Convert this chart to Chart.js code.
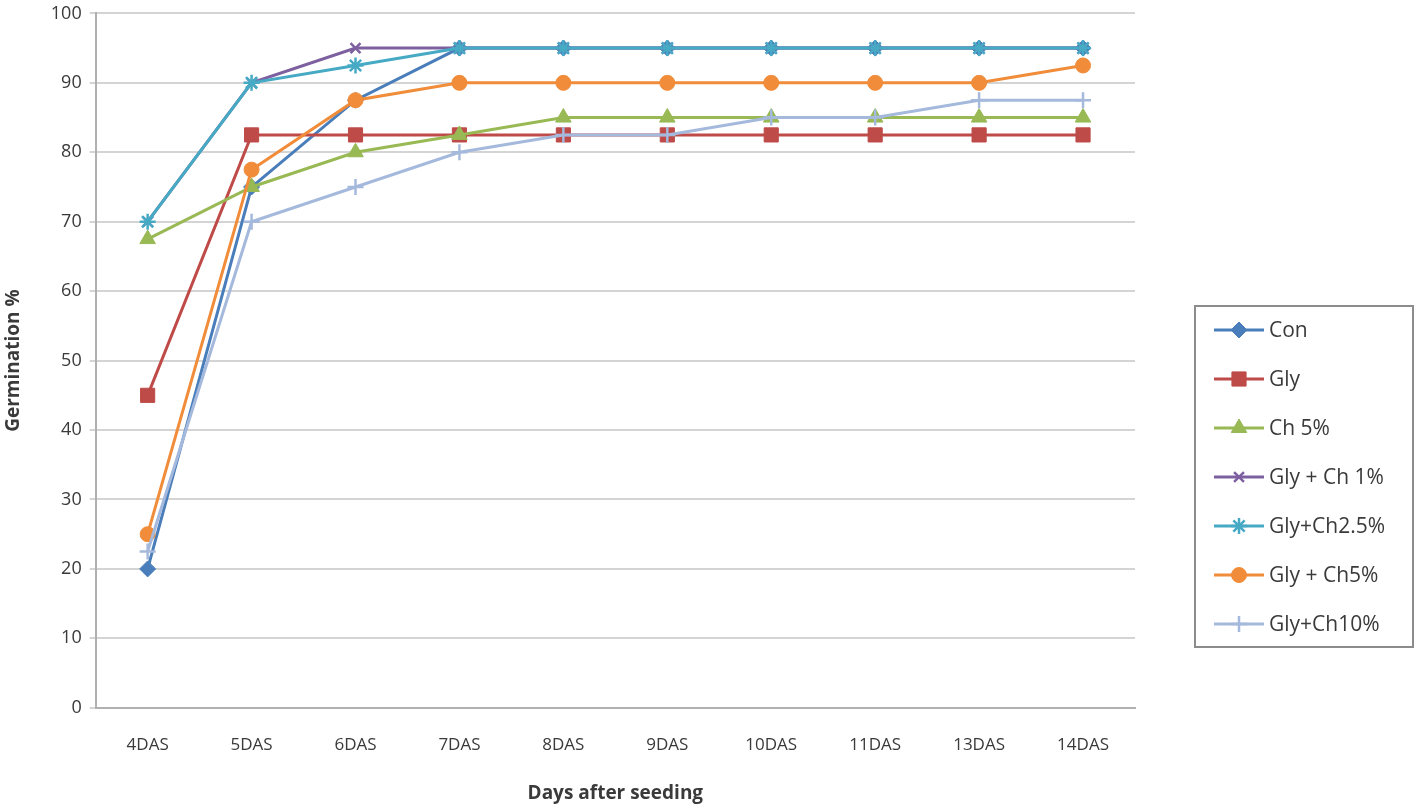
<!DOCTYPE html>
<html>
<head>
<meta charset="utf-8">
<script src="https://cdn.jsdelivr.net/npm/chart.js@4.4.0/dist/chart.umd.min.js"></script>
<style>
    html, body { margin: 0; padding: 0; background: #fff; }
    #wrap { width: 1418px; height: 808px; position: relative; }
</style>
</head>
<body>
<div id="wrap"><canvas id="germChart"></canvas></div>
<script>
const days = ['4DAS', '5DAS', '6DAS', '7DAS', '8DAS', '9DAS', '10DAS', '11DAS', '13DAS', '14DAS'];
const seriesNames = ['Con', 'Gly', 'Ch 5%', 'Gly + Ch 1%', 'Gly+Ch2.5%', 'Gly + Ch5%', 'Gly+Ch10%'];

const con      = [20, 75, 87.5, 95, 95, 95, 95, 95, 95, 95];
const gly      = [45, 82.5, 82.5, 82.5, 82.5, 82.5, 82.5, 82.5, 82.5, 82.5];
const ch5      = [67.5, 75, 80, 82.5, 85, 85, 85, 85, 85, 85];
const glyCh1   = [70, 90, 95, 95, 95, 95, 95, 95, 95, 95];
const glyCh25  = [70, 90, 92.5, 95, 95, 95, 95, 95, 95, 95];
const glyCh5   = [25, 77.5, 87.5, 90, 90, 90, 90, 90, 90, 92.5];
const glyCh10  = [22.5, 70, 75, 80, 82.5, 82.5, 85, 85, 87.5, 87.5];

const yTicks = [0, 10, 20, 30, 40, 50, 60, 70, 80, 90, 100];

const values  = [con, gly, ch5, glyCh1, glyCh25, glyCh5, glyCh10];
const colors  = ['#4a7ebb', '#be4b48', '#98b954', '#7d60a0', '#46aac5', '#f08c3a', '#a5b9dd'];
const markers = ['rectRot', 'rect', 'triangle', 'crossRot', 'star', 'circle', 'cross'];
const radii   = [8, 10, 9, 7, 8, 7.5, 8];

const FONT = '"Open Sans", sans-serif';
const TEXT = '#3a3a3a';

const datasets = seriesNames.map(function (name, i) {
    return {
        label: name,
        data: values[i],
        borderColor: colors[i],
        backgroundColor: colors[i],
        pointBackgroundColor: colors[i],
        pointBorderColor: colors[i],
        pointStyle: markers[i],
        pointRadius: radii[i],
        pointBorderWidth: (markers[i] === 'crossRot' || markers[i] === 'star' || markers[i] === 'cross') ? 2.5 : 1,
        borderWidth: 3,
        tension: 0,
        fill: false,
        order: 10 - i,   // later series drawn on top, as in the original
    };
});

// Boxed legend on the right, line + marker like the spreadsheet version
const boxLegend = {
    id: 'boxLegend',
    afterDraw: function (chart) {
        const ctx = chart.ctx;
        const x0 = 1195, y0 = 306, w = 218, h = 341;
        ctx.save();
        ctx.strokeStyle = '#8c8c8c';
        ctx.lineWidth = 2;
        ctx.strokeRect(x0, y0, w, h);
        chart.data.datasets.forEach(function (ds, i) {
            const y = 330 + i * 49;
            ctx.strokeStyle = ds.borderColor;
            ctx.lineWidth = 3;
            ctx.beginPath();
            ctx.moveTo(1214, y);
            ctx.lineTo(1264, y);
            ctx.stroke();
            ctx.fillStyle = ds.backgroundColor;
            ctx.strokeStyle = ds.borderColor;
            ctx.lineWidth = ds.pointBorderWidth;
            Chart.helpers.drawPoint(ctx, { pointStyle: ds.pointStyle, radius: ds.pointRadius, rotation: 0, borderWidth: ds.pointBorderWidth }, 1239, y);
            ctx.fillStyle = TEXT;
            ctx.font = '21px ' + FONT;
            ctx.textBaseline = 'middle';
            ctx.textAlign = 'left';
            ctx.fillText(ds.label, 1269, y + 1);
        });
        ctx.restore();
    }
};

new Chart(document.getElementById('germChart').getContext('2d'), {
    type: 'line',
    data: { labels: days, datasets: datasets },
    options: {
        responsive: true,
        maintainAspectRatio: false,
        animation: false,
        layout: { padding: { top: 12, right: 283, left: 2, bottom: 0 } },
        plugins: {
            legend: { display: false },
            tooltip: { enabled: false },
        },
        scales: {
            y: {
                min: 0,
                max: 100,
                afterBuildTicks: function (axis) {
                    axis.ticks = yTicks.map(function (v) { return { value: v }; });
                },
                grid: { color: '#d4d4d4', lineWidth: 2, tickLength: 6, drawTicks: true },
                border: { color: '#b0b0b0', width: 2 },
                ticks: { color: TEXT, font: { family: FONT, size: 18, lineHeight: 0.6 }, padding: 8 },
                title: {
                    display: true,
                    text: 'Germination %',
                    color: TEXT,
                    font: { family: FONT, size: 19, weight: 'bold' },
                    padding: { top: 0, bottom: 18 },
                },
            },
            x: {
                offset: true,
                grid: { display: false, drawTicks: false },
                border: { color: '#b0b0b0', width: 2 },
                ticks: { color: TEXT, font: { family: FONT, size: 17 }, padding: 27, maxRotation: 0 },
                title: {
                    display: true,
                    text: 'Days after seeding',
                    color: TEXT,
                    font: { family: FONT, size: 19, weight: 'bold' },
                    padding: { top: 0, bottom: 3 },
                },
            },
        },
    },
    plugins: [boxLegend],
});
</script>
</body>
</html>
